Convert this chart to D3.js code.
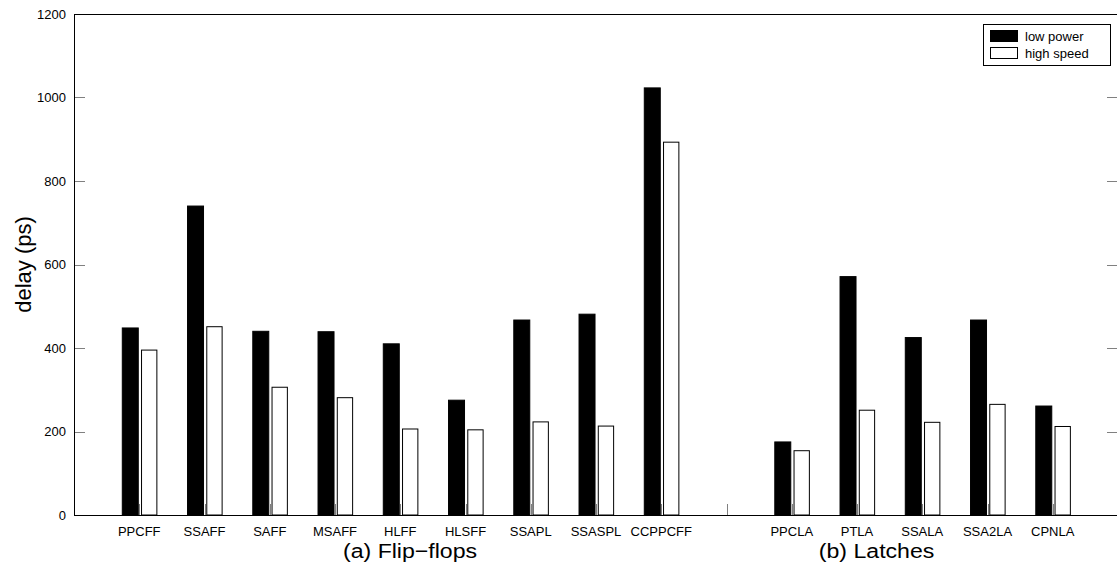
<!DOCTYPE html>
<html>
<head>
<meta charset="utf-8">
<script src="https://cdn.jsdelivr.net/npm/d3@7"></script>
<style>
  body { margin: 0; background: #fff; }
  text { font-family: "Liberation Sans", Arial, Helvetica, sans-serif; }
</style>
</head>
<body>
<div id="chart"></div>
<script>
// Chart data
const categories = ["PPCFF", "SSAFF", "SAFF", "MSAFF", "HLFF", "HLSFF", "SSAPL", "SSASPL", "CCPPCFF", "", "PPCLA", "PTLA", "SSALA", "SSA2LA", "CPNLA"];
const lowPower = [448, 740, 440, 439, 410, 275, 467, 481, 1023, 0, 175, 571, 425, 467, 261];
const highSpeed = [395, 451, 306, 281, 206, 204, 223, 213, 893, 0, 154, 251, 222, 265, 212];
const yTicks = [0, 200, 400, 600, 800, 1000, 1200];
const seriesNames = ["low power", "high speed"];
const groupTitles = ["(a) Flip\u2212flops", "(b) Latches"];

// Dimensions
const totalWidth = 1117;
const totalHeight = 570;
const margin = { top: 14, right: -1, bottom: 55, left: 74 };
const width = totalWidth - margin.left - margin.right;
const height = totalHeight - margin.top - margin.bottom;

const svg = d3
  .select("#chart")
  .append("svg")
  .attr("width", totalWidth)
  .attr("height", totalHeight)
  .append("g")
  .attr("transform", `translate(${margin.left},${margin.top})`);

// Scales: groups sit at 1..15, axis runs 0..16
const x = d3.scaleLinear().domain([0, categories.length + 1]).range([0, width]);
const y = d3.scaleLinear().domain([0, 1200]).range([height, 0]);

const tickLen = 11;

// Bars: low power (black) left of centre, high speed (white) right of centre
const bars = svg.append("g");
bars
  .selectAll(".low")
  .data(lowPower)
  .enter()
  .append("rect")
  .attr("x", (d, i) => x(i + 1 - 0.26))
  .attr("width", x(0.245) - x(0))
  .attr("y", (d) => y(d))
  .attr("height", (d) => y(0) - y(d))
  .attr("fill", "#000")
  .attr("stroke", "#000")
  .attr("stroke-width", 1);

bars
  .selectAll(".high")
  .data(highSpeed)
  .enter()
  .append("rect")
  .attr("x", (d, i) => x(i + 1 + 0.035))
  .attr("width", x(0.235) - x(0))
  .attr("y", (d) => y(d))
  .attr("height", (d) => y(0) - y(d))
  .attr("fill", "#fff")
  .attr("stroke", "#000")
  .attr("stroke-width", 1);

// Inward x ticks at group centres
svg
  .append("g")
  .selectAll("line")
  .data(categories)
  .enter()
  .append("line")
  .attr("x1", (d, i) => Math.round(x(i + 1)) + 0.5)
  .attr("x2", (d, i) => Math.round(x(i + 1)) + 0.5)
  .attr("y1", height)
  .attr("y2", height - tickLen)
  .attr("stroke", "#808080")
  .attr("stroke-width", 1);

// Inward y ticks on both sides
const yTickG = svg.append("g");
yTickG
  .selectAll(".yl")
  .data(yTicks.slice(1, -1))
  .enter()
  .append("line")
  .attr("x1", 0)
  .attr("x2", tickLen)
  .attr("y1", (d) => Math.round(y(d)) + 0.5)
  .attr("y2", (d) => Math.round(y(d)) + 0.5)
  .attr("stroke", "#808080");
yTickG
  .selectAll(".yr")
  .data(yTicks.slice(1, -1))
  .enter()
  .append("line")
  .attr("x1", width)
  .attr("x2", width - tickLen)
  .attr("y1", (d) => Math.round(y(d)) + 0.5)
  .attr("y2", (d) => Math.round(y(d)) + 0.5)
  .attr("stroke", "#808080");

// Axes box
svg
  .append("rect")
  .attr("x", 0.5)
  .attr("y", 0.5)
  .attr("width", width)
  .attr("height", height)
  .attr("fill", "none")
  .attr("stroke", "#000")
  .attr("stroke-width", 1);

// Y tick labels
svg
  .append("g")
  .selectAll("text")
  .data(yTicks)
  .enter()
  .append("text")
  .attr("x", -8)
  .attr("y", (d) => y(d))
  .attr("dy", "0.35em")
  .attr("text-anchor", "end")
  .attr("font-size", 13)
  .text((d) => d);

// Category labels
svg
  .append("g")
  .selectAll("text")
  .data(categories)
  .enter()
  .append("text")
  .attr("x", (d, i) => x(i + 1))
  .attr("y", height + 21)
  .attr("text-anchor", "middle")
  .attr("font-size", 13)
  .text((d) => d);

// Group titles (slightly wide lettering, as in the original export)
groupTitles.forEach(function (t, i) {
  svg
    .append("text")
    .attr("transform", `translate(${x(i === 0 ? 5.15 : 12.3)},${height + 43}) scale(1.1,1)`)
    .attr("text-anchor", "middle")
    .attr("font-size", 21)
    .text(t);
});

// Y axis title
svg
  .append("text")
  .attr("transform", `translate(${-43},${y(600)}) rotate(-90)`)
  .attr("text-anchor", "middle")
  .attr("font-size", 22)
  .text("delay (ps)");

// Legend
const legend = svg.append("g").attr("transform", `translate(${909},${10})`);
legend
  .append("rect")
  .attr("x", 0.5)
  .attr("y", 0.5)
  .attr("width", 127)
  .attr("height", 41)
  .attr("fill", "#fff")
  .attr("stroke", "#000");
seriesNames.forEach(function (name, i) {
  legend
    .append("rect")
    .attr("x", 7.5)
    .attr("y", 6.5 + i * 17)
    .attr("width", 27)
    .attr("height", 11)
    .attr("fill", i === 0 ? "#000" : "#fff")
    .attr("stroke", "#000");
  legend
    .append("text")
    .attr("x", 42)
    .attr("y", 12 + i * 17)
    .attr("dy", "0.35em")
    .attr("font-size", 13)
    .text(name);
});
</script>
</body>
</html>
